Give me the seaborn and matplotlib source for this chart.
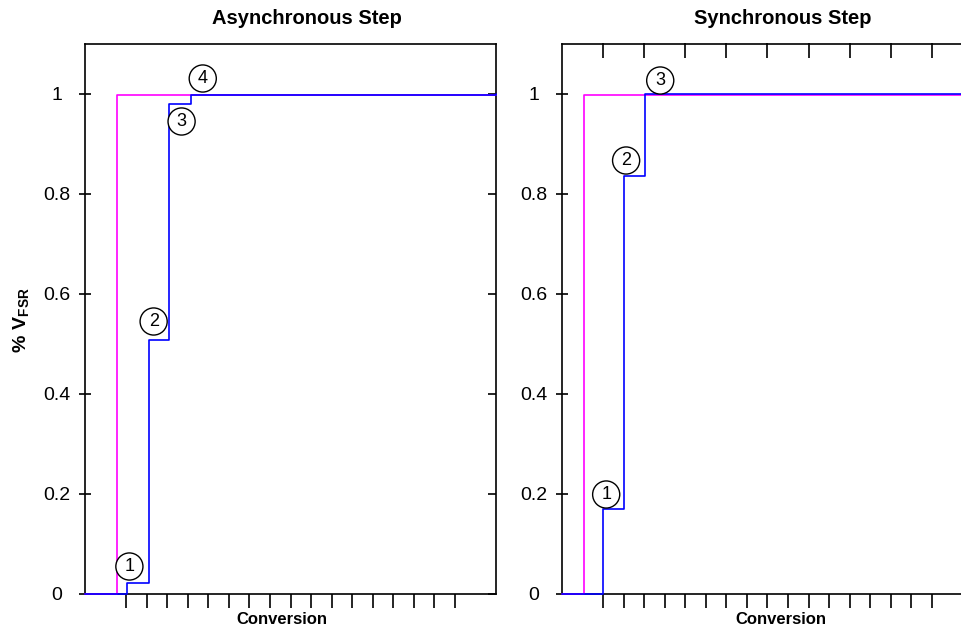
import matplotlib
matplotlib.use("Agg")
import matplotlib.pyplot as plt
import seaborn as sns
import pandas as pd

sns.set_theme(style="white")
plt.rcParams["font.family"] = ["Liberation Sans", "DejaVu Sans"]
plt.rcParams["mathtext.fontset"] = "custom"
plt.rcParams["mathtext.rm"] = "Liberation Sans"
plt.rcParams["mathtext.bf"] = "Liberation Sans:bold"
plt.rcParams["text.color"] = "black"
plt.rcParams["xtick.color"] = "black"
plt.rcParams["ytick.color"] = "black"
plt.rcParams["axes.labelcolor"] = "black"

# step data (conversion index, fraction of full scale)
async_ideal_x = [-2, -0.43, 18]
async_ideal_y = [0, 0.997, 0.997]
async_out_x = [-2, 0.06, 1.1, 2.1, 3.14, 18]
async_out_y = [0, 0.021, 0.508, 0.979, 0.997, 1.0]

sync_ideal_x = [-2, -0.93, 18]
sync_ideal_y = [0, 0.997, 0.997]
sync_out_x = [-2, 0.0, 1.02, 2.05, 18]
sync_out_y = [0, 0.17, 0.836, 1.0, 1.004]

# numbered step markers: (label, x, y)
async_marks = [("1", 0.16, 0.054), ("2", 1.34, 0.544), ("3", 2.7, 0.944), ("4", 3.73, 1.03)]
sync_marks = [("1", 0.15, 0.198), ("2", 1.12, 0.866), ("3", 2.78, 1.026)]

y_ticks = [0, 0.2, 0.4, 0.6, 0.8, 1.0]
y_labels = ["0", "0.2", "0.4", "0.6", "0.8", "1"]
x_ticks = list(range(17))

BLUE = "#0000FF"
MAGENTA = "#FF00FF"

fig = plt.figure(figsize=(9.62, 6.31), dpi=100)
ax1 = fig.add_axes([85 / 962, 1 - 593.5 / 631, 411 / 962, 550 / 631])
ax2 = fig.add_axes([562 / 962, 1 - 593.5 / 631, 411 / 962, 550 / 631])


def draw_panel(ax, ix, iy, ox, oy, marks):
    ideal = pd.DataFrame({"x": ix, "y": iy})
    out = pd.DataFrame({"x": ox, "y": oy})
    sns.lineplot(data=ideal, x="x", y="y", ax=ax, color=MAGENTA, lw=1.2,
                 drawstyle="steps-post", estimator=None, sort=False, clip_on=False, zorder=3)
    sns.lineplot(data=out, x="x", y="y", ax=ax, color=BLUE, lw=1.2,
                 drawstyle="steps-post", estimator=None, sort=False, clip_on=False, zorder=4)
    for lab, mx, my in marks:
        ax.text(mx, my, lab, fontsize=13, ha="center", va="center", zorder=5, color="black",
                bbox=dict(boxstyle="circle,pad=0.28", fc="white", ec="black", lw=1.0))
    ax.set_xlim(-2, 18)
    ax.set_ylim(0, 1.1)
    ax.set_xticks(x_ticks)
    ax.set_xticklabels([])
    ax.set_yticks(y_ticks)
    ax.set_yticklabels(y_labels, fontsize=14)
    ax.set_xlabel("")
    ax.set_ylabel("")
    ax.tick_params(axis="x", direction="out", length=10, width=1.2, color="black", bottom=True)
    ax.tick_params(axis="y", direction="inout", length=9, width=1.2, color="black", left=True, pad=16)
    for lab in ax.get_yticklabels():
        lab.set_horizontalalignment("center")
    for s in ax.spines.values():
        s.set_color("black")
        s.set_linewidth(1.2)


draw_panel(ax1, async_ideal_x, async_ideal_y, async_out_x, async_out_y, async_marks)
draw_panel(ax2, sync_ideal_x, sync_ideal_y, sync_out_x, sync_out_y, sync_marks)

# inner ticks on the right edge of the first panel
sec = ax1.secondary_yaxis("right")
sec.set_yticks(y_ticks)
sec.tick_params(direction="in", length=6, width=1.2, color="black", labelright=False)
sec.spines["right"].set_visible(False)

# inner ticks along the top of the second panel
top = ax2.secondary_xaxis("top")
top.set_xticks(x_ticks[::2])
top.tick_params(direction="in", length=11, width=1.2, color="black", labeltop=False)
top.spines["top"].set_visible(False)

fig.text(307 / 962, 1 - 19 / 631, "Asynchronous Step", fontsize=14.5, fontweight="bold",
         ha="center", va="center")
fig.text(783 / 962, 1 - 19 / 631, "Synchronous Step", fontsize=14.5, fontweight="bold",
         ha="center", va="center")
fig.text(282 / 962, 1 - 619 / 631, "Conversion", fontsize=12, fontweight="bold",
         ha="center", va="center")
fig.text(781 / 962, 1 - 619 / 631, "Conversion", fontsize=12, fontweight="bold",
         ha="center", va="center")
fig.text(22 / 962, 1 - 320 / 631, r"$\mathbf{\%\ V}_{\mathbf{FSR}}$", fontsize=14,
         rotation=90, ha="center", va="center")

fig.savefig("out.png", dpi=100)
